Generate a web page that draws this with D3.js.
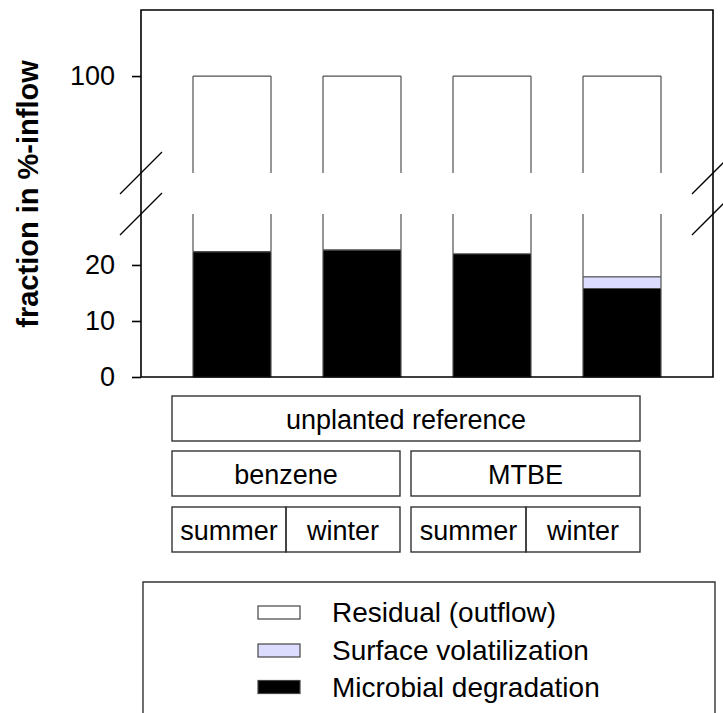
<!DOCTYPE html>
<html>
<head>
<meta charset="utf-8">
<script src="https://cdn.jsdelivr.net/npm/d3@7/dist/d3.min.js"></script>
<style>
  html, body { margin: 0; padding: 0; background: #fff; }
  svg { display: block; font-family: "Liberation Sans", Arial, Helvetica, sans-serif; }
</style>
</head>
<body>
<svg id="chart" width="723" height="713"></svg>
<script>
// Stacked fractions (% of inflow) for the unplanted reference
const categories = ["benzene summer", "benzene winter", "MTBE summer", "MTBE winter"];
const microbialDegradation = [22.4, 22.7, 22.0, 15.8];
const surfaceVolatilization = [0, 0, 0, 2.1];
const residualOutflow = [77.6, 77.3, 78.0, 82.1];

const lowerTicks = [0, 10, 20];
const upperTicks = [100];

const seriesNames = ["Residual (outflow)", "Surface volatilization", "Microbial degradation"];
const seriesColors = ["#ffffff", "#dcdcff", "#000000"];

const groupLabel = "unplanted reference";
const compoundLabels = ["benzene", "MTBE"];
const seasonLabels = ["summer", "winter", "summer", "winter"];
const yLabel = "fraction in %-inflow";

const svg = d3.select("#chart");

// Plot frame
const plotLeft = 141, plotRight = 713, plotTop = 10, plotBottom = 377;
const gapTop = 173, gapBottom = 214;

// Broken y axis: two linear segments sharing the same pixels per unit
const yLow = d3.scaleLinear().domain([0, 29.1]).range([plotBottom, gapBottom]);
const yHigh = d3.scaleLinear().domain([82.68, 111.8]).range([gapTop, plotTop]);

const x = d3.scaleBand().domain(categories).range([plotLeft, plotRight])
  .paddingInner(0.4).paddingOuter(0.4);

// Build stacked segments: microbial at the bottom, then volatilization, then residual
const stacked = categories.map((c, i) => {
  const parts = [
    { key: 2, value: microbialDegradation[i] },
    { key: 1, value: surfaceVolatilization[i] },
    { key: 0, value: residualOutflow[i] }
  ];
  let acc = 0;
  return parts.map(p => {
    const seg = { cat: c, key: p.key, y0: acc, y1: acc + p.value };
    acc += p.value;
    return seg;
  }).filter(s => s.y1 > s.y0);
});

const panels = [yLow, yHigh];
const barStroke = "#505050";
const gBars = svg.append("g");

stacked.forEach(segs => {
  segs.forEach(s => {
    panels.forEach(sc => {
      const [d0, d1] = sc.domain();
      const a = Math.max(s.y0, d0), b = Math.min(s.y1, d1);
      if (b <= a) return;
      const x0 = x(s.cat), x1 = x0 + x.bandwidth();
      const ya = sc(a), yb = sc(b);
      gBars.append("rect")
        .attr("x", x0).attr("y", yb)
        .attr("width", x.bandwidth()).attr("height", ya - yb)
        .attr("fill", seriesColors[s.key]);
      const edges = [[x0, ya, x0, yb], [x1, ya, x1, yb]];
      if (s.y0 >= d0) edges.push([x0, ya, x1, ya]);
      if (s.y1 <= d1) edges.push([x0, yb, x1, yb]);
      edges.forEach(e => gBars.append("line")
        .attr("x1", e[0]).attr("y1", e[1]).attr("x2", e[2]).attr("y2", e[3])
        .attr("stroke", barStroke).attr("stroke-width", 1.2));
    });
  });
});

// Frame
svg.append("path")
  .attr("d", `M${plotLeft},${plotBottom}V${plotTop}H${plotRight}V${plotBottom}H${plotLeft}`)
  .attr("stroke", "#000").attr("stroke-width", 1.6).attr("fill", "none");

// Axis ticks and labels
function styleAxis(g) {
  g.select(".domain").remove();
  g.selectAll(".tick line").attr("stroke", "#000").attr("stroke-width", 1.6);
  g.selectAll(".tick text").attr("font-size", 27).attr("fill", "#000")
    .attr("font-family", "Liberation Sans, Arial, sans-serif");
}
svg.append("g").attr("transform", `translate(${plotLeft},0)`)
  .call(d3.axisLeft(yLow).tickValues(lowerTicks).tickSize(9).tickPadding(17)).call(styleAxis);
svg.append("g").attr("transform", `translate(${plotLeft},0)`)
  .call(d3.axisLeft(yHigh).tickValues(upperTicks).tickSize(9).tickPadding(17)).call(styleAxis);

// Break marks on both sides
const brk = svg.append("g").attr("stroke", "#000").attr("stroke-width", 1.3);
[plotLeft, plotRight].forEach(bx => {
  [gapTop, gapBottom].forEach(by => {
    brk.append("line").attr("x1", bx - 21).attr("y1", by + 21)
      .attr("x2", bx + 21).attr("y2", by - 21);
  });
});

// Y axis title
svg.append("text")
  .attr("transform", "translate(37.5,194) rotate(-90)")
  .attr("text-anchor", "middle")
  .attr("font-size", 29).attr("font-weight", "bold")
  .text(yLabel);

// Category boxes under the axis
const boxes = svg.append("g");
function box(x0, y0, x1, y1, label) {
  boxes.append("rect").attr("x", x0).attr("y", y0).attr("width", x1 - x0).attr("height", y1 - y0)
    .attr("fill", "none").attr("stroke", "#333").attr("stroke-width", 1.4);
  if (label) boxes.append("text").attr("x", (x0 + x1) / 2).attr("y", (y0 + y1) / 2 + 1)
    .attr("text-anchor", "middle").attr("dominant-baseline", "central")
    .attr("font-size", 27).text(label);
}
box(172, 396, 640, 441, groupLabel);
box(172, 451, 400, 496, compoundLabels[0]);
box(411, 451, 640, 496, compoundLabels[1]);
box(172, 507, 286, 552, seasonLabels[0]);
box(286, 507, 400, 552, seasonLabels[1]);
box(411, 507, 526, 552, seasonLabels[2]);
box(526, 507, 640, 552, seasonLabels[3]);

// Legend
const legend = svg.append("g");
legend.append("path").attr("d", "M143,713V582H715V713")
  .attr("fill", "none").attr("stroke", "#333").attr("stroke-width", 1.4);
const legendY = [612.5, 650.5, 687];
seriesNames.forEach((name, i) => {
  legend.append("rect").attr("x", 258).attr("y", legendY[i] - 6.5)
    .attr("width", 42).attr("height", 13)
    .attr("fill", seriesColors[i]).attr("stroke", "#444").attr("stroke-width", 1.2);
  legend.append("text").attr("x", 332).attr("y", legendY[i])
    .attr("dominant-baseline", "central").attr("font-size", 28).text(name);
});
</script>
</body>
</html>
